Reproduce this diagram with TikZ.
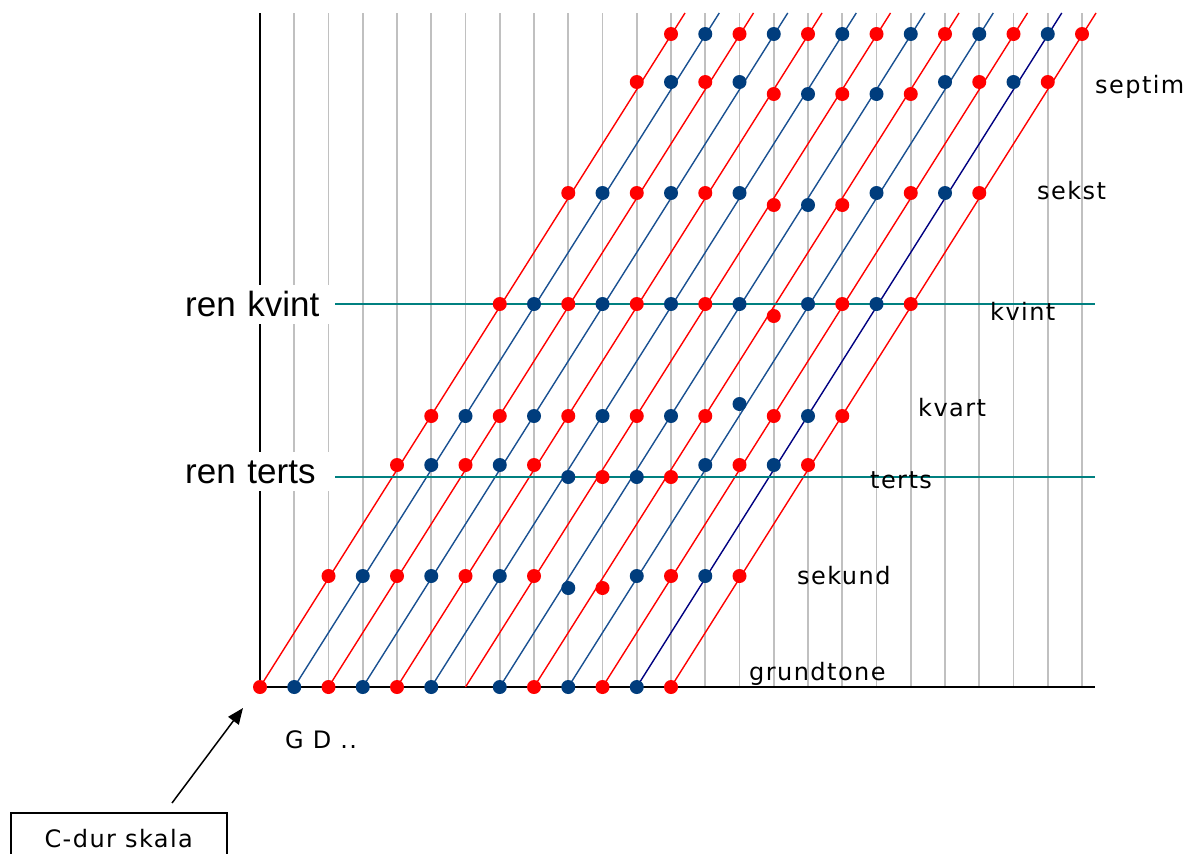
\documentclass[tikz,border=0pt]{standalone}
\usepackage{fontspec}
\setmainfont{DejaVu Sans}
\newfontfamily\arialf{Liberation Sans}
\newfontfamily\verdf[LetterSpace=6]{DejaVu Sans}
\usetikzlibrary{arrows.meta}
\definecolor{gridgrey}{RGB}{192,192,192}
\definecolor{lred}{RGB}{255,0,0}
\definecolor{lblue}{RGB}{25,80,145}
\definecolor{lnavy}{RGB}{0,0,128}
\definecolor{dred}{RGB}{255,0,0}
\definecolor{dblue}{RGB}{0,61,125}
\definecolor{reftl}{RGB}{0,128,128}
\tikzset{
  gridline/.style={draw=gridgrey, line width=1.6pt},
  axisline/.style={draw=black, line width=1.6pt},
  etline/.style={line width=1.4pt},
  refline/.style={draw=reftl, line width=1.4pt},
  dot/.style={circle, inner sep=0pt, minimum size=14pt, draw=none},
  renlab/.style={fill=white, font=\arialf\fontsize{35}{40}\selectfont, inner xsep=7pt, inner ysep=7pt, text width=143pt, align=left, text height=25pt, text depth=0pt, anchor=west},
  rlab/.style={font=\verdf\fontsize{24}{28}\selectfont, anchor=base west, inner sep=0pt},
  boxlab/.style={draw=black, line width=1.5pt, minimum width=216pt, minimum height=52pt, text height=17pt, text depth=0pt, font=\verdf\fontsize{24}{28}\selectfont, anchor=north west}
}
\begin{document}
\begin{tikzpicture}[x=1pt,y=-1pt]
\useasboundingbox (0,0) rectangle (1186,854);
% grey grid
\foreach \k in {1,...,24}{
  \coordinate (gt\k) at (260+34.25*\k,13);
  \coordinate (gb\k) at (260+34.25*\k,687);
  \draw[gridline] (gt\k) -- (gb\k);
}
% axes
\coordinate (otop) at (260,13);
\coordinate (origin) at (260,687);
\coordinate (xend) at (1095,687);
\draw[axisline] (otop) -- (origin) -- (xend);
% reference line ends
\coordinate (kvend) at (1095,304);
\coordinate (tend) at (1095,477);
% equal-tempered lines
\foreach \i/\lc in {0/lred,1/lblue,2/lred,3/lblue,4/lred,5/lblue,6/lred,7/lblue,8/lred,9/lblue,10/lred,11/lnavy,12/lred}{
  \coordinate (s\i) at (260+34.25*\i,687);
  \coordinate (e\i) at (260+34.25*\i+425,13);
  \draw[etline, draw=\lc] (s\i) -- (e\i);
}
% labels with white backgrounds
\node[renlab] (rk) at (178,304) {ren kvint};
\node[renlab] (rt) at (178,471) {ren terts};
\draw[refline] (rk.east |- kvend) -- (kvend);
\draw[refline] (rt.east |- tend) -- (tend);
% dots
\foreach \i/\dc/\offs in {
 0/dred/{0,0,0,0,0,0,0,0},
 1/dblue/{0,0,0,0,0,0,0,0},
 2/dred/{0,0,0,0,0,0,0,0},
 3/dblue/{0,0,0,0,0,0,0,0},
 4/dred/{0,0,0,0,0,0,1,0},
 5/dblue/{0,0,1,0,0,0,1,0},
 6/dred/{9,0,1,0,0,1,1,0},
 7/dblue/{0,1,1,0,0,1,1,0},
 8/dred/{0,1,1,0,1,1,1,0},
 9/dblue/{0,0,0,-1,0,0,0,0},
 10/dred/{0,0,0,0,0,0,0,0},
 11/dblue/{0,0,0,0,0,0,0,0},
 12/dred/{0,0,0,0,0,0,0,0}}{
  \foreach \o [count=\j from 0] in \offs {
    \ifnum\o=9\relax\else
      \pgfmathsetmacro\dx{260+34.25*(\i+{0,2,4,5,7,9,11,12}[\j])}
      \pgfmathsetmacro\dy{{687,576,465,416,304,193,82,34}[\j]+12*(\o)}
      \node[dot, fill=\dc] (d\i-\j) at (\dx,\dy) {};
    \fi
  }
}
% interval labels
\node[rlab] (lsep) at (1095,93) {septim};
\node[rlab] (lsek) at (1037,199) {sekst};
\node[rlab] (lkvi) at (990,320) {kvint};
\node[rlab] (lkva) at (918,416) {kvart};
\node[rlab] (lter) at (870,488) {terts};
\node[rlab] (lsnd) at (797,584) {sekund};
\node[rlab] (lgrd) at (749,680) {grundtone};
\node[rlab] (lgd) at (285,748) {G D ..};
% C-dur box and arrow
\node[boxlab] (cdur) at (10,812) {C-dur skala};
\coordinate (astart) at (172,803);
\coordinate (atip) at (243,708);
\draw[line width=1.5pt, -{Triangle[length=16pt,width=13pt]}] (astart) -- (atip);
\end{tikzpicture}
\end{document}
